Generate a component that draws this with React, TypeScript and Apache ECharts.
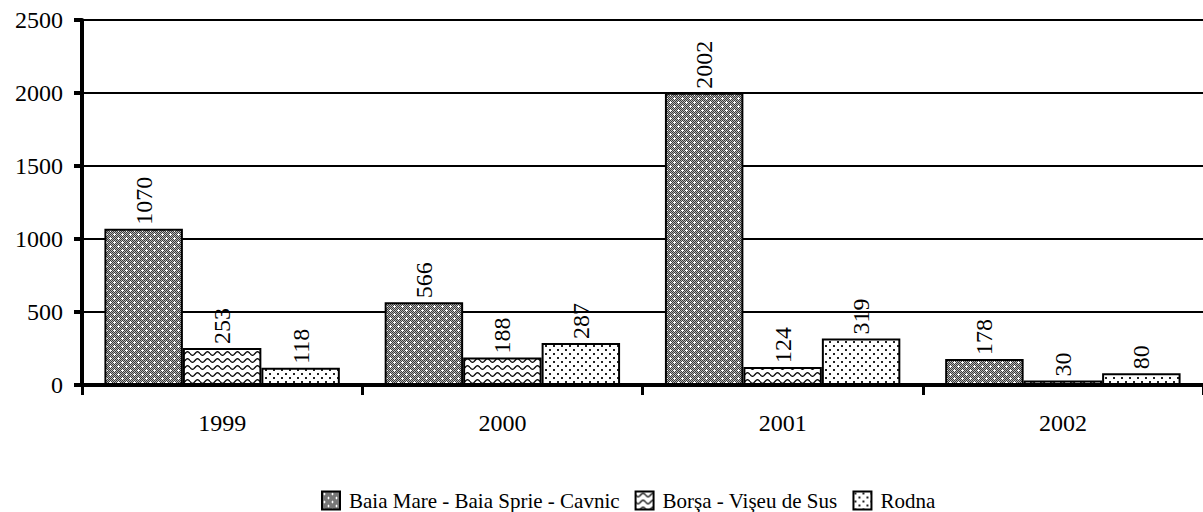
import React, { useEffect, useRef } from "react";
import * as echarts from "echarts";

const years = ["1999", "2000", "2001", "2002"];
const seriesNames = ["Baia Mare - Baia Sprie - Cavnic", "Borşa - Vişeu de Sus", "Rodna"];
const baiaMare = [1070, 566, 2002, 178];
const borsa = [253, 188, 124, 30];
const rodna = [118, 287, 319, 80];
const yTicks = { min: 0, max: 2500, interval: 500 };

const FONT = "Liberation Serif";

function makeCanvas(w: number, h: number, draw: (ctx: CanvasRenderingContext2D) => void) {
  const c = document.createElement("canvas");
  c.width = w;
  c.height = h;
  const ctx = c.getContext("2d")!;
  draw(ctx);
  return c;
}

function patternDense() {
  const c = makeCanvas(8, 8, (ctx) => {
    for (let y = 0; y < 8; y++) {
      for (let x = 0; x < 8; x++) {
        ctx.fillStyle = (x + y) % 2 === 0 ? "#3a3a3a" : "#b4b4b4";
        ctx.fillRect(x, y, 1, 1);
      }
    }
    ctx.fillStyle = "#ffffff";
    const plus = (cx: number, cy: number) => {
      ctx.fillRect(cx - 1, cy, 3, 1);
      ctx.fillRect(cx, cy - 1, 1, 3);
    };
    plus(2, 2);
    plus(6, 6);
  });
  return { image: c, repeat: "repeat", imageWidth: 8, imageHeight: 8 } as any;
}

function patternWave() {
  const c = makeCanvas(10, 7, (ctx) => {
    ctx.fillStyle = "#ffffff";
    ctx.fillRect(0, 0, 10, 7);
    ctx.strokeStyle = "#000000";
    ctx.lineWidth = 1.3;
    ctx.beginPath();
    for (let i = 0; i <= 20; i++) {
      const x = (i / 20) * 10;
      const y = 3.5 + 1.8 * Math.sin((i / 20) * Math.PI * 2);
      if (i === 0) ctx.moveTo(x, y);
      else ctx.lineTo(x, y);
    }
    ctx.stroke();
  });
  return { image: c, repeat: "repeat", imageWidth: 10, imageHeight: 7 } as any;
}

function patternDots() {
  const c = makeCanvas(8, 8, (ctx) => {
    ctx.fillStyle = "#ffffff";
    ctx.fillRect(0, 0, 8, 8);
    ctx.fillStyle = "#222222";
    ctx.fillRect(1, 1, 2, 2);
    ctx.fillRect(5, 5, 2, 2);
  });
  return { image: c, repeat: "repeat", imageWidth: 8, imageHeight: 8 } as any;
}

export default function App() {
  const ref = useRef<HTMLDivElement>(null);
  useEffect(() => {
    if (!ref.current) return;
    const chart = echarts.init(ref.current, null, { renderer: "svg" });
    const patterns = [patternDense(), patternWave(), patternDots()];
    const datasets = [baiaMare, borsa, rodna];
    chart.setOption({
      animation: false,
      backgroundColor: "#ffffff",
      textStyle: { fontFamily: FONT },
      grid: { left: 82, right: -3, top: 20, bottom: 127, containLabel: false },
      legend: {
        left: 316,
        top: 485,
        icon: "rect",
        itemWidth: 18,
        itemHeight: 18,
        itemGap: 15,
        textStyle: { fontFamily: FONT, fontSize: 21, color: "#000", padding: [0, 0, 0, 4] },
        data: seriesNames,
      },
      xAxis: {
        type: "category",
        data: years,
        axisLine: { show: true, lineStyle: { color: "#000", width: 4 } },
        axisTick: { show: true, length: 10, lineStyle: { color: "#000", width: 3 } },
        axisLabel: { fontFamily: FONT, fontSize: 24, color: "#000", margin: 26 },
        splitLine: { show: false },
      },
      yAxis: {
        type: "value",
        min: yTicks.min,
        max: yTicks.max,
        interval: yTicks.interval,
        axisLine: { show: true, lineStyle: { color: "#000", width: 4 } },
        axisTick: { show: true, length: 8, lineStyle: { color: "#000", width: 4 } },
        axisLabel: {
          fontFamily: FONT,
          fontSize: 24,
          color: "#000",
          margin: 19,
          formatter: (v: number) => String(v),
        },
        splitLine: { show: true, lineStyle: { color: "#000", width: 2 } },
      },
      series: seriesNames.map((name, i) => ({
        name,
        type: "bar",
        data: datasets[i],
        barGap: "0%",
        barCategoryGap: "16%",
        itemStyle: { color: patterns[i], borderColor: "#000", borderWidth: 2 },
        label: {
          show: true,
          position: "top",
          rotate: 90,
          align: "left",
          verticalAlign: "middle",
          distance: 4,
          fontFamily: FONT,
          fontSize: 24,
          color: "#000",
        },
      })),
    });
    return () => chart.dispose();
  }, []);
  return (
    <div
      ref={ref}
      style={{ position: "absolute", left: 0, top: 0, width: 1203, height: 512, background: "#fff" }}
    />
  );
}
